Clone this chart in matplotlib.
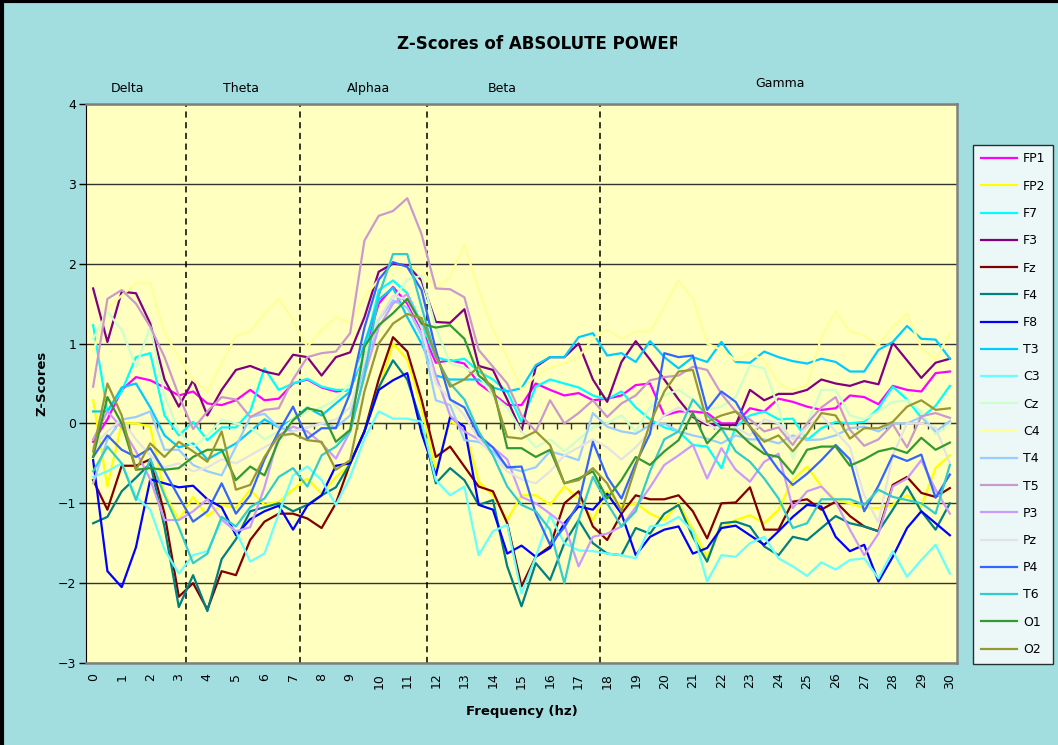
import numpy as np
import matplotlib
matplotlib.use("Agg")
import matplotlib.pyplot as plt
from matplotlib.transforms import Bbox, TransformedBbox

# frequency bins, 0.5 Hz apart
FREQS = np.arange(0, 30.5, 0.5)

CHANNELS = ["FP1", "FP2", "F7", "F3", "Fz", "F4", "F8", "T3", "C3", "Cz",
            "C4", "T4", "T5", "P3", "Pz", "P4", "T6", "O1", "O2"]
COLORS = ["#FF00FF", "#FFFF00", "#00FFFF", "#800080", "#800000", "#008080",
          "#0000FF", "#00CCFF", "#66FFFF", "#CCFFCC", "#FFFF99", "#99CCFF",
          "#CC99CC", "#CC99FF", "#E3E3E3", "#3366FF", "#33CCCC", "#339933",
          "#999933"]

FP1 = [-0.23, 0.05, 0.42, 0.58, 0.54, 0.45, 0.35, 0.40, 0.25, 0.23,
       0.29, 0.42, 0.29, 0.31, 0.50, 0.55, 0.45, 0.40, 0.42, 0.90,
       1.50, 1.71, 1.50, 1.17, 0.76, 0.79, 0.75, 0.50, 0.37, 0.23,
       0.23, 0.50, 0.42, 0.35, 0.38, 0.29, 0.31, 0.35, 0.48, 0.50,
       0.10, 0.15, 0.15, 0.13, 0.00, 0.00, 0.19, 0.15, 0.31, 0.27,
       0.21, 0.17, 0.19, 0.35, 0.33, 0.24, 0.47, 0.42, 0.40, 0.63, 0.65]
FP2 = [0.29, -0.79, 0.00, 0.00, -0.04, -0.88, -1.21, -0.92, -1.16, -1.02,
       -1.06, -0.83, -1.02, -0.98, -0.83, -0.69, -0.88, -0.67, -0.52, -0.10,
       0.40, 1.00, 0.80, 0.20, -0.58, 0.02, -0.04, -0.73, -0.90, -1.21,
       -0.90, -0.90, -1.02, -0.79, -0.94, -1.21, -0.85, -1.04, -1.00, -1.13,
       -1.21, -1.00, -1.33, -1.67, -1.31, -1.21, -1.15, -1.25, -1.08, -0.71,
       -0.54, -0.79, -0.96, -1.00, -1.06, -1.06, -1.02, -0.90, -1.04, -0.56, -0.40]
F7 = [1.23, 0.15, 0.40, 0.83, 0.88, 0.10, -0.15, 0.02, -0.21, -0.05,
      -0.05, 0.15, 0.69, 0.42, 0.50, 0.56, 0.46, 0.42, 0.42, 0.90,
      1.67, 1.79, 1.63, 1.25, 0.83, 0.78, 0.81, 0.65, 0.55, 0.40,
      0.02, 0.46, 0.55, 0.50, 0.45, 0.35, 0.30, 0.40, 0.20, 0.05,
      -0.05, -0.10, -0.27, -0.29, -0.56, -0.04, 0.10, 0.15, 0.05, 0.06,
      -0.21, -0.06, 0.02, 0.00, 0.02, 0.19, 0.46, 0.30, 0.07, 0.22, 0.47]
F3 = [1.69, 1.02, 1.65, 1.63, 1.25, 0.55, 0.21, 0.54, 0.10, 0.42,
      0.67, 0.72, 0.65, 0.61, 0.86, 0.83, 0.60, 0.83, 0.89, 1.33,
      1.90, 2.00, 1.98, 1.79, 1.27, 1.26, 1.43, 0.72, 0.67, 0.30,
      -0.10, 0.71, 0.83, 0.83, 1.00, 0.55, 0.27, 0.77, 1.03, 0.80,
      0.55, 0.30, 0.08, -0.02, -0.02, -0.02, 0.42, 0.29, 0.37, 0.37,
      0.42, 0.55, 0.50, 0.47, 0.53, 0.49, 1.01, 0.79, 0.57, 0.76, 0.81]
FZ = [-0.71, -1.08, -0.53, -0.53, -0.45, -1.13, -2.17, -2.00, -2.33, -1.85,
      -1.90, -1.46, -1.23, -1.13, -1.13, -1.19, -1.31, -1.00, -0.50, -0.10,
      0.55, 1.08, 0.90, 0.30, -0.42, -0.29, -0.54, -0.79, -0.85, -1.25,
      -2.04, -1.67, -1.54, -1.00, -0.85, -1.29, -1.46, -1.13, -0.90, -0.95,
      -0.95, -0.90, -1.10, -1.44, -1.00, -0.99, -0.80, -1.33, -1.33, -0.98,
      -0.95, -1.08, -0.98, -1.16, -1.29, -1.35, -0.77, -0.67, -0.87, -0.92, -0.81]
F4 = [-1.25, -1.17, -0.85, -0.68, -0.50, -1.30, -2.30, -1.90, -2.35, -1.70,
      -1.45, -1.10, -1.05, -1.00, -1.10, -1.02, -0.90, -0.80, -0.50, -0.10,
      0.45, 0.79, 0.55, 0.00, -0.75, -0.56, -0.71, -1.02, -0.96, -1.79,
      -2.29, -1.75, -1.96, -1.50, -1.21, -1.50, -1.63, -1.65, -1.31, -1.38,
      -1.13, -1.02, -1.42, -1.73, -1.25, -1.23, -1.29, -1.54, -1.65, -1.42,
      -1.46, -1.31, -1.16, -1.25, -1.29, -1.35, -1.08, -0.79, -1.10, -1.33, -1.00]
F8 = [-0.46, -1.85, -2.05, -1.55, -0.70, -0.75, -0.80, -0.78, -0.95, -1.05,
      -1.40, -1.20, -1.10, -1.03, -1.33, -1.03, -0.90, -0.53, -0.50, -0.10,
      0.42, 0.54, 0.63, -0.12, -0.65, 0.08, -0.04, -1.02, -1.08, -1.63,
      -1.53, -1.67, -1.56, -1.25, -1.04, -1.08, -0.88, -1.13, -1.65, -1.42,
      -1.33, -1.29, -1.63, -1.56, -1.31, -1.28, -1.40, -1.52, -1.35, -1.17,
      -1.02, -1.04, -1.42, -1.60, -1.52, -1.98, -1.67, -1.31, -1.10, -1.25, -1.40]
T3 = [0.15, 0.15, 0.45, 0.50, 0.20, -0.15, -0.30, -0.25, -0.45, -0.35,
      -0.25, -0.10, 0.05, -0.05, 0.05, 0.20, 0.10, 0.25, 0.40, 1.00,
      1.55, 1.70, 1.33, 1.00, 0.60, 0.55, 0.55, 0.55, 0.45, 0.40,
      0.44, 0.73, 0.83, 0.83, 1.08, 1.13, 0.85, 0.88, 0.77, 1.03,
      0.83, 0.69, 0.83, 0.77, 1.02, 0.77, 0.76, 0.90, 0.83, 0.78,
      0.75, 0.81, 0.77, 0.65, 0.65, 0.92, 1.02, 1.22, 1.06, 1.05, 0.81]
C3 = [-0.67, -0.60, -0.50, -0.92, -1.08, -1.58, -1.88, -1.65, -1.60, -1.21,
      -1.35, -1.73, -1.63, -1.13, -0.65, -0.54, -0.71, -1.02, -0.67, -0.19,
      0.15, 0.06, 0.06, 0.02, -0.71, -0.90, -0.79, -1.65, -1.35, -1.27,
      -2.13, -1.67, -1.15, -1.50, -1.59, -1.60, -1.63, -1.65, -1.69, -1.29,
      -1.27, -1.17, -1.35, -1.98, -1.65, -1.67, -1.50, -1.42, -1.69, -1.79,
      -1.91, -1.74, -1.83, -1.71, -1.69, -1.94, -1.60, -1.92, -1.71, -1.52, -1.88]
CZ = [1.06, 1.40, 1.17, 0.71, 1.21, 0.35, -0.10, -0.30, -0.15, 0.05,
      0.00, -0.05, -0.20, -0.10, 0.05, 0.15, 0.20, 0.30, 0.50, 0.90,
      1.30, 1.55, 1.80, 1.85, 1.20, 0.75, 0.70, 0.60, 0.35, 0.20,
      -0.10, -0.30, -0.20, -0.35, -0.20, -0.05, 0.00, 0.10, -0.10, 0.20,
      0.35, 0.42, 0.30, 0.17, 0.21, 0.33, 0.73, 0.69, 0.20, -0.44,
      0.00, 0.42, 0.42, 0.10, 0.05, 0.15, 0.27, 0.29, 0.15, -0.14, 0.00]
C4 = [0.90, 1.44, 1.60, 1.76, 1.75, 1.13, 0.83, 0.54, 0.40, 0.75,
      1.10, 1.15, 1.38, 1.56, 1.29, 0.96, 1.17, 1.33, 1.25, 1.58,
      1.80, 1.94, 1.96, 1.92, 1.69, 1.83, 2.24, 1.67, 1.17, 0.83,
      0.42, 0.60, 0.70, 0.75, 0.83, 1.06, 1.17, 1.06, 1.15, 1.15,
      1.46, 1.79, 1.56, 1.00, 0.92, 0.79, 0.88, 0.79, 0.50, 0.42,
      0.48, 1.08, 1.40, 1.15, 1.10, 0.98, 1.21, 1.38, 0.94, 0.80, 1.13]
T4 = [-0.75, -0.20, 0.05, 0.08, 0.15, -0.33, -0.33, -0.52, -0.60, -0.65,
      -0.29, 0.08, 0.12, -0.05, -0.10, -0.05, 0.00, -0.05, 0.10, 0.70,
      1.30, 1.54, 1.45, 1.10, 0.29, 0.23, -0.21, -0.23, -0.35, -0.55,
      -0.60, -0.55, -0.35, -0.40, -0.46, 0.13, -0.04, -0.10, -0.13, -0.02,
      0.00, -0.10, -0.15, -0.19, -0.25, -0.15, -0.20, -0.20, -0.25, -0.15,
      -0.21, -0.20, -0.15, -0.06, -0.04, -0.10, 0.00, 0.00, 0.08, -0.10, 0.03]
T5 = [0.46, 1.56, 1.67, 1.50, 1.21, 0.83, 0.35, -0.07, 0.15, 0.33,
      0.30, 0.08, 0.17, 0.19, 0.55, 0.83, 0.88, 0.90, 1.13, 2.29,
      2.60, 2.66, 2.82, 2.37, 1.69, 1.68, 1.58, 0.92, 0.71, 0.50,
      0.10, -0.10, 0.29, 0.00, 0.13, 0.29, 0.08, 0.25, 0.35, 0.54,
      0.58, 0.60, 0.71, 0.67, 0.37, 0.15, 0.05, -0.10, -0.05, -0.27,
      0.00, 0.20, 0.33, -0.08, -0.28, -0.20, -0.01, -0.30, 0.09, 0.13, 0.07]
P3 = [-0.20, 0.15, -0.05, -0.35, -0.70, -1.21, -1.21, -1.10, -0.95, -1.20,
      -1.35, -1.30, -0.80, -0.15, -0.04, -0.10, -0.25, -0.44, -0.10, 0.60,
      1.20, 1.50, 1.62, 1.20, 0.60, 0.10, -0.10, -0.20, -0.30, -0.45,
      -0.92, -1.00, -1.13, -1.27, -1.79, -1.42, -1.38, -1.29, -1.05, -0.80,
      -0.52, -0.40, -0.27, -0.69, -0.31, -0.58, -0.73, -0.48, -0.38, -1.06,
      -0.85, -0.79, -0.98, -1.33, -1.65, -1.38, -0.79, -0.69, -0.46, -0.83, -1.13]
PZ = [-0.30, -0.10, 0.05, -0.20, -0.40, -0.55, -0.50, -0.60, -0.55, -0.45,
      -0.50, -0.40, -0.30, -0.20, -0.10, -0.05, 0.00, 0.05, 0.20, 0.80,
      1.30, 1.60, 1.55, 1.20, 0.50, 0.30, 0.10, -0.20, -0.40, -0.60,
      -0.70, -0.75, -0.60, -0.40, -0.30, -0.20, -0.30, -0.45, -0.30, -0.10,
      0.10, 0.20, 0.10, 0.00, -0.10, -0.05, -0.15, 0.05, 0.00, -0.20,
      -0.05, 0.10, -0.10, -0.30, -0.90, -1.24, -0.40, 0.00, 0.00, -0.05, -0.50]
P4 = [-0.42, -0.15, -0.33, -0.42, -0.31, -0.60, -0.92, -1.23, -1.10, -0.75,
      -1.13, -0.90, -0.45, -0.10, 0.21, -0.19, -0.06, -0.06, 0.38, 1.20,
      1.80, 2.02, 1.96, 1.67, 0.92, 0.30, 0.20, -0.15, -0.30, -0.55,
      -0.54, -1.13, -1.52, -1.30, -1.00, -0.23, -0.67, -0.94, -0.50, -0.13,
      0.88, 0.83, 0.85, 0.17, 0.40, 0.27, -0.04, -0.33, -0.58, -0.77,
      -0.63, -0.46, -0.27, -0.45, -1.10, -0.78, -0.40, -0.47, -0.39, -0.93, -0.64]
T6 = [-0.60, -0.29, -0.50, -0.96, -0.44, -0.90, -1.30, -1.75, -1.63, -1.17,
      -1.29, -1.05, -0.94, -0.67, -0.56, -0.79, -0.40, -0.29, -0.10, 0.60,
      1.60, 2.12, 2.12, 1.46, 0.83, 0.50, 0.30, -0.10, -0.40, -0.79,
      -1.02, -1.10, -1.33, -2.00, -1.21, -0.67, -1.00, -1.29, -1.10, -0.60,
      -0.20, -0.10, 0.30, 0.10, -0.06, -0.35, -0.48, -0.69, -0.94, -1.31,
      -1.25, -0.95, -0.95, -0.95, -1.02, -0.83, -0.92, -0.96, -1.00, -1.13, -0.52]
O1 = [-0.42, 0.33, 0.00, -0.58, -0.56, -0.58, -0.56, -0.42, -0.33, -0.33,
      -0.71, -0.54, -0.65, -0.21, 0.04, 0.19, 0.15, -0.23, -0.08, 0.96,
      1.23, 1.38, 1.56, 1.25, 1.20, 1.23, 1.06, 0.60, 0.46, -0.31,
      -0.31, -0.42, -0.33, -0.75, -0.69, -0.60, -0.94, -0.71, -0.42, -0.52,
      -0.35, -0.21, 0.13, -0.25, -0.06, -0.08, -0.25, -0.38, -0.42, -0.63,
      -0.33, -0.29, -0.29, -0.53, -0.45, -0.35, -0.31, -0.37, -0.18, -0.33, -0.24]
O2 = [-0.35, 0.50, 0.10, -0.58, -0.25, -0.42, -0.23, -0.35, -0.48, -0.10,
      -0.83, -0.77, -0.42, -0.15, -0.13, -0.21, -0.23, -0.58, -0.46, 0.40,
      1.00, 1.25, 1.37, 1.32, 0.85, 0.46, 0.55, 0.71, 0.40, -0.17,
      -0.19, -0.10, -0.27, -0.75, -0.71, -0.56, -0.75, -1.10, -0.54, 0.00,
      0.40, 0.65, 0.67, 0.02, 0.10, 0.15, -0.04, -0.23, -0.15, -0.35,
      -0.13, 0.13, 0.10, -0.19, -0.06, -0.06, 0.02, 0.21, 0.29, 0.17, 0.19]

SERIES = [FP1, FP2, F7, F3, FZ, F4, F8, T3, C3, CZ,
          C4, T4, T5, P3, PZ, P4, T6, O1, O2]

BANDS = ["Delta", "Theta", "Alphaa", "Beta", "Gamma"]
BAND_X = [1.22, 5.18, 9.66, 14.32, 24.05]
BAND_EDGES = [3.25, 7.25, 11.7, 17.75]

BG = "#A2DEE0"
PLOT_BG = "#FFFFC0"


def main():
    plt.rcParams["font.family"] = ["DejaVu Sans"]
    fig = plt.figure(figsize=(10.58, 7.45), dpi=100, facecolor=BG)
    ax = fig.add_axes([86 / 1058, 1 - 663 / 745, 871 / 1058, 559 / 745])
    ax.set_facecolor(PLOT_BG)

    for name, vals, col in zip(CHANNELS, SERIES, COLORS):
        ax.plot(FREQS, vals, color=col, lw=1.6, label=name, zorder=3)

    for xe in BAND_EDGES:
        ax.axvline(xe, color="black", lw=1.1, ls=(0, (4, 3)), zorder=2)

    ax.set_xlim(-0.25, 30.25)
    ax.set_ylim(-3, 4)
    ax.set_yticks(range(-3, 5))
    ax.set_xticks(range(0, 31))
    ax.set_xticklabels([str(v) for v in range(0, 31)], rotation=90)
    ax.tick_params(axis="x", length=0, pad=7, labelsize=9)
    ax.tick_params(axis="y", length=5, width=1, pad=2, labelsize=9)
    ax.yaxis.grid(True, color="#333333", lw=1)
    ax.set_axisbelow(True)

    for side in ["top", "right", "bottom"]:
        ax.spines[side].set_color("#808080")
        ax.spines[side].set_linewidth(1.8)
    ax.spines["left"].set_color("black")

    # category axis crossing at zero, tick marks between bins
    zero = ax.secondary_xaxis(3 / 7)
    zero.set_xticks(np.arange(0.25, 30, 0.5))
    zero.tick_params(direction="out", length=4, width=1, labelbottom=False, color="#333333")
    zero.spines["bottom"].set_color("#333333")

    for name, xb in zip(BANDS, BAND_X):
        yb = 1.036 if name == "Gamma" else 1.027
        ax.text(xb, yb, name, transform=ax.get_xaxis_transform(),
                ha="center", va="center", fontsize=9)

    # title box is narrower than the text, so the last letter gets cut
    title = fig.text(397 / 1058, 1 - 44 / 745, "Z-Scores of ABSOLUTE POWER",
                     ha="left", va="center", fontsize=12, fontweight="bold")
    title.set_clip_box(TransformedBbox(Bbox([[0, 0], [677 / 1058, 1]]), fig.transFigure))
    title.set_clip_on(True)

    fig.text(42 / 1058, 1 - 383 / 745, "Z-Scores", rotation=90, ha="center",
             va="center", fontsize=9.5, fontweight="bold")
    fig.text(522 / 1058, 1 - 711 / 745, "Frequency (hz)", ha="center",
             va="center", fontsize=9.5, fontweight="bold")

    leg = fig.legend(loc="upper left", bbox_to_anchor=(973 / 1058, 1 - 145 / 745),
                     frameon=True, fancybox=False, fontsize=9, handlelength=2.9,
                     labelspacing=1.14, borderpad=0.6, handletextpad=0.5,
                     borderaxespad=0)
    leg.get_frame().set_edgecolor("black")
    leg.get_frame().set_linewidth(1)
    leg.get_frame().set_facecolor("white")
    for ln in leg.get_lines():
        ln.set_linewidth(1.6)

    # outer chart border (top and left edges)
    fig.add_artist(plt.Line2D([0, 1], [0.998, 0.998], color="black", lw=3,
                              transform=fig.transFigure))
    fig.add_artist(plt.Line2D([0.002, 0.002], [0, 1], color="black", lw=3,
                              transform=fig.transFigure))

    fig.savefig("out.png", dpi=100, facecolor=BG)
    plt.close(fig)


if __name__ == "__main__":
    main()
